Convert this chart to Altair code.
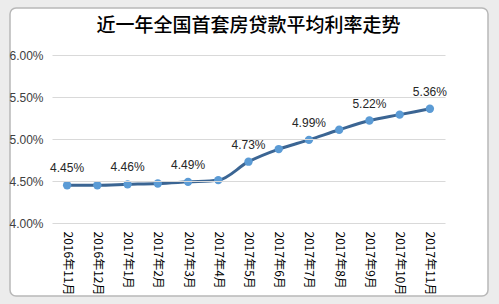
import altair as alt
import pandas as pd

months = ["2016年11月", "2016年12月", "2017年1月", "2017年2月", "2017年3月", "2017年4月",
          "2017年5月", "2017年6月", "2017年7月", "2017年8月", "2017年9月", "2017年10月", "2017年11月"]
rates = [4.45, 4.45, 4.46, 4.47, 4.49, 4.51, 4.73, 4.88, 4.99, 5.11, 5.22, 5.29, 5.36]
label_shown = [True, False, True, False, True, False, True, False, True, False, True, False, True]

df = pd.DataFrame({
    "month": months,
    "rate": [r / 100 for r in rates],
    "label": [f"{r:.2f}%" if s else "" for r, s in zip(rates, label_shown)],
})

FONT = "Noto Sans CJK SC"

frame = alt.Chart(pd.DataFrame({"a": [0]})).mark_rect(
    fill="white", stroke="#b8b8b8", strokeWidth=1.5, cornerRadius=6
).encode(
    x=alt.value(-42), x2=alt.value(436), y=alt.value(-47), y2=alt.value(241)
)

x = alt.X("month:N", sort=months, title=None,
          scale=alt.Scale(paddingInner=0, paddingOuter=0),
          axis=alt.Axis(labelAngle=90, labelAlign="left", labelBaseline="middle",
                        labelFont=FONT, labelFontSize=12, labelColor="#000000",
                        labelPadding=8, ticks=False, domain=False, grid=False, zindex=1))
y = alt.Y("rate:Q", title=None,
          scale=alt.Scale(domain=[0.04, 0.06]),
          axis=alt.Axis(values=[0.04, 0.045, 0.05, 0.055, 0.06], format=".2%",
                        labelFont="Liberation Sans", labelFontSize=12, labelColor="#404040",
                        labelPadding=9, ticks=False, domain=False,
                        gridColor="#d9d9d9", gridWidth=1, zindex=1))

base = alt.Chart(df)
line = base.mark_line(color="#3b6593", strokeWidth=3, interpolate="monotone").encode(x=x, y=y)
pts = base.mark_point(filled=True, color="#5b9bd5", size=70, opacity=1).encode(x=x, y=y)
txt = base.mark_text(dy=-17, font="Liberation Sans", fontSize=12, color="#262626").encode(
    x=x, y=y, text="label:N")

chart = alt.layer(frame, line, pts, txt).properties(
    width=393, height=168,
    title=alt.TitleParams("近一年全国首套房贷款平均利率走势", font=FONT, fontSize=19,
                          fontWeight=500, color="#000000", offset=14, dy=43),
    padding={"left": 52, "top": 55, "right": 54, "bottom": 81},
    autosize=alt.AutoSizeParams(type="none"),
    background="#ececec",
).configure_view(stroke=None)

chart.save("out.html", embed_options={"renderer": "svg", "actions": False})
